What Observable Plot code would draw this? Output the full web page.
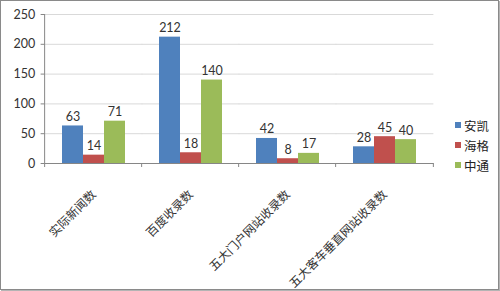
<!DOCTYPE html>
<html><head><meta charset="utf-8">
<script src="https://cdn.jsdelivr.net/npm/d3@7"></script>
<script src="https://cdn.jsdelivr.net/npm/@observablehq/plot@0.6"></script>
<style>
body{margin:0;background:#fff}
#wrap{position:relative;width:500px;height:291px;overflow:hidden;background:#fff}
#chart{position:absolute;left:0;top:0}
#border{position:absolute;left:0;top:0;width:497px;height:288px;border:1px solid #8a8a8a;box-shadow:1px 1px 0 #b4b4b4;pointer-events:none}
#legend{position:absolute;left:455px;top:115px;font-family:"Noto Sans CJK SC",sans-serif;font-size:12.5px;color:#222}
.item{height:20px;display:flex;align-items:center}
.sw{width:6px;height:6px;margin-right:3px}
</style></head><body>
<div id="wrap"><div id="chart"></div><div id="legend"></div><div id="border"></div></div>
<script>
const categories = ["实际新闻数","百度收录数","五大门户网站收录数","五大客车垂直网站收录数"];
const seriesNames = ["安凯","海格","中通"];
const anKai = [63,212,42,28];
const haiGe = [14,18,8,45];
const zhongTong = [71,140,17,40];
const colors = ["#4F81BD","#C0504D","#9BBB59"];
const yTicks = [0,50,100,150,200,250];

const data = [];
[anKai,haiGe,zhongTong].forEach((vals,si)=>vals.forEach((v,ci)=>data.push({category:categories[ci],series:seriesNames[si],value:v})));

const W = 500, H = 291, mL = 43, mR = 66, mT = 14, mB = 128;
const pIn = 0.335, pOut = pIn/2;
const step = (W - mL - mR) / (categories.length - pIn + 2*pOut);
const half = step * pOut; // half gap between groups

const plot = Plot.plot({
  width:W,height:H,
  marginLeft:mL,marginRight:mR,marginTop:mT,marginBottom:mB,
  style:{fontFamily:"Lato, 'Noto Sans CJK SC', sans-serif",fontSize:"12px",color:"#333",background:"transparent",overflow:"visible"},
  fx:{domain:categories,paddingInner:pIn,paddingOuter:pOut,label:null,axis:null},
  x:{domain:seriesNames,padding:0,axis:null},
  y:{domain:[0,250],label:null,axis:null},
  color:{domain:seriesNames,range:colors},
  marks:[
    Plot.ruleY(yTicks.slice(1),{stroke:"#d9d9d9",insetLeft:-half,insetRight:-half}),
    Plot.barY(data,{fx:"category",x:"series",y:"value",fill:"series"}),
    Plot.text(data,{fx:"category",x:"series",y:"value",text:"value",dy:-5,lineAnchor:"bottom",fill:"#333",fontSize:12.5}),
    Plot.ruleY([0],{stroke:"#868686",insetLeft:-half,insetRight:-half}),
    Plot.axisY(yTicks,{tickSize:4,tickPadding:6,dx:-half,stroke:"#868686",fill:"#333",fontSize:12.5,label:null}),
    Plot.axisFx({anchor:"bottom",tickRotate:-45,tickSize:0,tickPadding:29,dx:0,textAnchor:"end",lineAnchor:"middle",fontSize:12,fill:"#333",fontFamily:"'Noto Sans CJK SC', sans-serif",label:null})
  ]
});
document.getElementById("chart").appendChild(plot);

// y axis line and category boundary ticks, positioned with Plot's own scales
const fx = plot.scale("fx");
const y = plot.scale("y");
const edges = categories.map(c => fx.apply(c) - half).concat([fx.apply(categories[categories.length-1]) + fx.bandwidth + half]);
const y0 = y.apply(0), yTop = y.apply(250);
const g = d3.select(plot).append("g").attr("stroke","#868686");
g.append("line").attr("x1",edges[0]).attr("x2",edges[0]).attr("y1",yTop).attr("y2",y0);
g.selectAll("line.edge").data(edges).join("line").attr("class","edge")
  .attr("x1",d=>d).attr("x2",d=>d).attr("y1",y0).attr("y2",y0+4);

const legend = d3.select("#legend");
seriesNames.forEach((s,i)=>{
  const it = legend.append("div").attr("class","item");
  it.append("div").attr("class","sw").style("background",colors[i]);
  it.append("span").text(s);
});
</script>
</body></html>
